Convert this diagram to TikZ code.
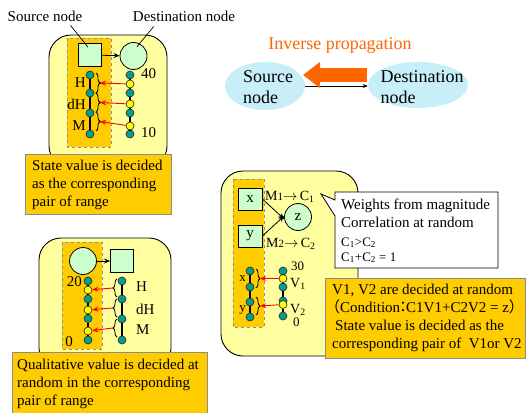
\documentclass[tikz,border=0pt]{standalone}
\usepackage{fontspec}
\setmainfont{Liberation Serif}
\newfontfamily\cjkfont{Noto Sans CJK JP}
\usetikzlibrary{decorations.pathreplacing,arrows.meta,shapes.geometric}

\definecolor{panelyellow}{RGB}{255,255,160}
\definecolor{boxorange}{RGB}{255,204,0}
\definecolor{paleGreen}{RGB}{204,255,204}
\definecolor{tealnode}{RGB}{0,160,140}
\definecolor{dotyellow}{RGB}{255,255,0}
\definecolor{paleCyan}{RGB}{200,238,248}
\definecolor{propOrange}{RGB}{255,102,0}
\definecolor{dashgray}{RGB}{140,140,170}

\tikzset{
  panel/.style={draw=black, line width=0.9pt, fill=panelyellow, rounded corners=22pt},
  group/.style={draw=dashgray, dashed, fill=boxorange, line width=0.6pt},
  sqnode/.style={draw=black, fill=paleGreen, minimum width=23pt, minimum height=23pt, inner sep=0pt, line width=0.8pt},
  circnode/.style={circle, draw=black, fill=paleGreen, minimum size=27pt, inner sep=0pt, line width=0.8pt},
  tdot/.style={circle, draw=black!80, fill=tealnode, minimum size=8pt, inner sep=0pt, line width=0.7pt},
  ydot/.style={circle, draw=black!80, fill=dotyellow, minimum size=8pt, inner sep=0pt, line width=0.7pt},
  chainline/.style={line width=1.5pt},
  conn/.style={line width=0.8pt, -{Stealth[length=6pt,width=5pt]}},
  redarrow/.style={red, line width=0.9pt, -{Stealth[length=6pt,width=5pt]}},
  brc/.style={decorate, decoration={brace, amplitude=4pt}, line width=0.8pt},
  note/.style={draw=black!45, fill=boxorange, line width=0.8pt},
  lbl/.style={font=\fontsize{15}{18}\selectfont, inner sep=0pt},
  lblsm/.style={font=\fontsize{13}{14}\selectfont, inner sep=0pt},
  big/.style={font=\fontsize{18}{21}\selectfont, inner sep=0pt},
}

\begin{document}
\begin{tikzpicture}[x=1pt,y=-1pt]
\useasboundingbox (0,0) rectangle (526,412);
\fill[white] (0,0) rectangle (526,412);

% ---------- state value panel ----------
\draw[panel] (49,35) rectangle (167,168);
\draw[group] (67,38) rectangle (111,147);
\node[sqnode] (s1) at (90,55) {};
\node[circnode] (d1) at (133.5,56) {};
\draw[conn] (s1) -- (d1);
\node[lbl] (srclbl) at (45,16) {Source node};
\node[lbl] (dstlbl) at (184,16) {Destination node};
\draw[line width=0.7pt] ([shift={(-12,4)}]srclbl.south east) -- ([shift={(-2,4)}]s1.north);
\draw[line width=0.7pt] ([shift={(21,5)}]dstlbl.south west) -- ([shift={(3.5,4.5)}]d1.north);

\foreach \n/\yy in {a/75,b/93,c/113,d/134}
  \node[tdot] (L1\n) at (90,\yy) {};
\draw[chainline] (L1a) -- (L1b) -- (L1c) -- (L1d);
\node[tdot] (R1a) at (130,75) {};
\node[ydot] (R1b) at (130,84) {};
\node[tdot] (R1c) at (130,93) {};
\node[ydot] (R1d) at (130,104) {};
\node[tdot] (R1e) at (130,113) {};
\node[ydot] (R1f) at (130,126) {};
\node[tdot] (R1g) at (130,134) {};
\draw[chainline] (R1a) -- (R1b) -- (R1c) -- (R1d) -- (R1e) -- (R1f) -- (R1g);

\draw[brc] (96,73) -- (96,93);
\draw[brc] (96,93) -- (96,112);
\draw[brc] (96,112) -- (96,131);
\coordinate (tA) at (100,83);
\coordinate (tB) at (100,102.5);
\coordinate (tC) at (100,121.5);
\foreach \t in {tA,tB,tC} \fill (\t) circle (1pt);
\draw[redarrow] (R1b) -- (tA);
\draw[redarrow] (R1d) -- (tB);
\draw[redarrow] (R1f) -- (tC);

\node[lbl, anchor=east] at (86,83) {H};
\node[lbl, anchor=east] at (86,104) {dH};
\node[lbl, anchor=east] at (86,126) {M};
\node[lbl, anchor=west] at (141,74) {40};
\node[lbl, anchor=west] at (141,133) {10};

\node[note, anchor=north west, minimum width=146pt, minimum height=60pt] (stbox) at (25,154) {};
\node[lbl, align=left, anchor=west] (sttxt) at ([shift={(7,1)}]stbox.west)
  {State value is decided\\as the corresponding\\pair of range};

% ---------- qualitative value panel ----------
\draw[panel] (39,238) rectangle (171,370);
\draw[group] (62,242) rectangle (102,349);
\node[circnode] (d2) at (83,261) {};
\node[sqnode] (s2) at (122,261) {};
\draw[conn] (d2) -- (s2);

\node[tdot] (L2a) at (88,281) {};
\node[ydot] (L2b) at (88,290) {};
\node[tdot] (L2c) at (88,299) {};
\node[ydot] (L2d) at (88,310) {};
\node[tdot] (L2e) at (88,318.5) {};
\node[ydot] (L2f) at (88,331) {};
\node[tdot] (L2g) at (88,340) {};
\draw[chainline] (L2a) -- (L2b) -- (L2c) -- (L2d) -- (L2e) -- (L2f) -- (L2g);
\foreach \n/\yy in {a/281,b/299,c/319,d/340}
  \node[tdot] (R2\n) at (122,\yy) {};
\draw[chainline] (R2a) -- (R2b) -- (R2c) -- (R2d);

\draw[brc] (117,297) -- (117,279);
\draw[brc] (117,317) -- (117,299);
\draw[brc] (117,337) -- (117,319);
\coordinate (tD) at (113,288);
\coordinate (tE) at (113,308);
\coordinate (tF) at (113,328);
\draw[redarrow] (tD) -- (L2b);
\draw[redarrow] (tE) -- (L2d);
\draw[redarrow] (tF) -- (L2f);

\node[lbl, anchor=west] at (136,287) {H};
\node[lbl, anchor=west] at (136,309) {dH};
\node[lbl, anchor=west] at (136,330) {M};
\node[lbl, anchor=east] at (82,282) {20};
\node[lbl, anchor=east] at (73,342) {0};

\node[note, anchor=north west, minimum width=195pt, minimum height=66pt] (qbox) at (12,352) {};
\node[lbl, align=left, anchor=north west] (qtxt) at (17,359)
  {Qualitative value is decided at\\random in the corresponding\\pair of range};

% ---------- inverse propagation ----------
\node[big, text=propOrange] (inv) at (340,45) {Inverse propagation};
\node[ellipse, fill=paleCyan, minimum width=80pt, minimum height=48pt, inner sep=0pt] (srcE) at (265,86) {};
\node[ellipse, fill=paleCyan, minimum width=100pt, minimum height=46pt, inner sep=0pt] (dstE) at (418,85) {};
\node[big, align=left] (srcT) at (268,87) {Source\\node};
\node[big, align=left] (dstT) at (422,87) {Destination\\node};
\draw[line width=0.7pt, -{Stealth[length=5pt,width=4pt]}] (srcE.east) -- (srcE.east -| dstE.west);
\coordinate (invTail) at (367,75);
\coordinate (invHead) at (303,75);
\draw[propOrange, line width=14pt, -{Triangle[length=17pt,width=25pt]}] (invTail) -- (invHead);

% ---------- correlation panel ----------
\draw[panel] (221,171) rectangle (358,356);
\draw[group] (233,179) rectangle (264,327);
\node[sqnode, lbl, minimum width=24pt, minimum height=22pt] (xs) at (250,199) {x};
\node[sqnode, lbl, minimum width=24pt, minimum height=22pt] (ys) at (250,236) {y};
\node[circnode, lbl] (zc) at (298,217) {z};
\draw[conn] (xs.east) -- ([yshift=-2pt]zc.west);
\draw[conn] (ys.east) -- ([yshift=1pt]zc.west);
\node[lblsm, font=\fontsize{14}{14}\selectfont, anchor=base west] (m1) at (265,200)
  {M{\fontsize{11}{11}\selectfont 1}$\rightarrow$\,C\textsubscript{1}};
\node[lblsm, font=\fontsize{14}{14}\selectfont, anchor=base west] (m2) at (266,247)
  {M{\fontsize{11}{11}\selectfont 2}$\rightarrow$\,C\textsubscript{2}};

\draw[fill=white, line width=0.8pt] (335,192) -- (498,192) -- (498,268) -- (335,268)
  -- (335,216) -- (321,194) -- (335,200) -- cycle;
\node[lbl, anchor=base west] (w1) at (341,209) {Weights from magnitude};
\node[lbl, anchor=base west] (w2) at (341,227) {Correlation at random};
\node[lblsm, anchor=base west] (w3) at (341,246) {C\textsubscript{1}>C\textsubscript{2}};
\node[lblsm, anchor=base west] (w4) at (341,261) {C\textsubscript{1}+C\textsubscript{2} = 1};

\foreach \n/\yy in {a/271,b/287,c/302,d/317}
  \node[tdot] (L3\n) at (250,\yy) {};
\draw[chainline] (L3a) -- (L3b) -- (L3c) -- (L3d);
\node[tdot] (R3a) at (283,271) {};
\node[ydot] (R3b) at (283,278.5) {};
\node[tdot] (R3c) at (283,287) {};
\node[tdot] (R3d) at (283,301) {};
\node[ydot] (R3e) at (283,304.5) {};
\node[tdot] (R3f) at (283,316) {};
\draw[chainline] (R3a) -- (R3b) -- (R3c) -- (R3d);
\draw[chainline] (R3e) -- (R3f);

\draw[brc] (256,269) -- (256,288);
\draw[brc] (256,297) -- (256,315);
\coordinate (tG) at (260,278.5);
\coordinate (tH) at (260,306);
\draw[redarrow] (R3b) -- (tG);
\draw[redarrow] (R3e) -- (tH);

\node[lblsm, anchor=east] at (246,279) {x};
\node[lblsm, anchor=east] at (246,310) {y};
\node[lblsm, anchor=west] at (291,266) {30};
\node[lblsm, font=\fontsize{14}{14}\selectfont, anchor=west] at (290,284) {V\textsubscript{1}};
\node[lblsm, font=\fontsize{14}{14}\selectfont, anchor=west] at (290,310) {V\textsubscript{2}};
\node[lblsm, anchor=west] at (293,322) {0};

\node[note, anchor=north west, minimum width=200pt, minimum height=80pt] (vbox) at (325,278) {};
\node[lbl, align=left, anchor=west] (vtxt) at ([xshift=7pt]vbox.west)
  {V1, V2 are decided at random\\
   \makebox[8pt][r]{\cjkfont（}Condition\makebox[6pt][c]{\cjkfont ：}C1V1+C2V2 = z\makebox[9pt][l]{\cjkfont ）}\\
   \hspace{3pt}State value is decided as the\\
   corresponding pair of\ \ V1or V2};
\end{tikzpicture}
\end{document}
